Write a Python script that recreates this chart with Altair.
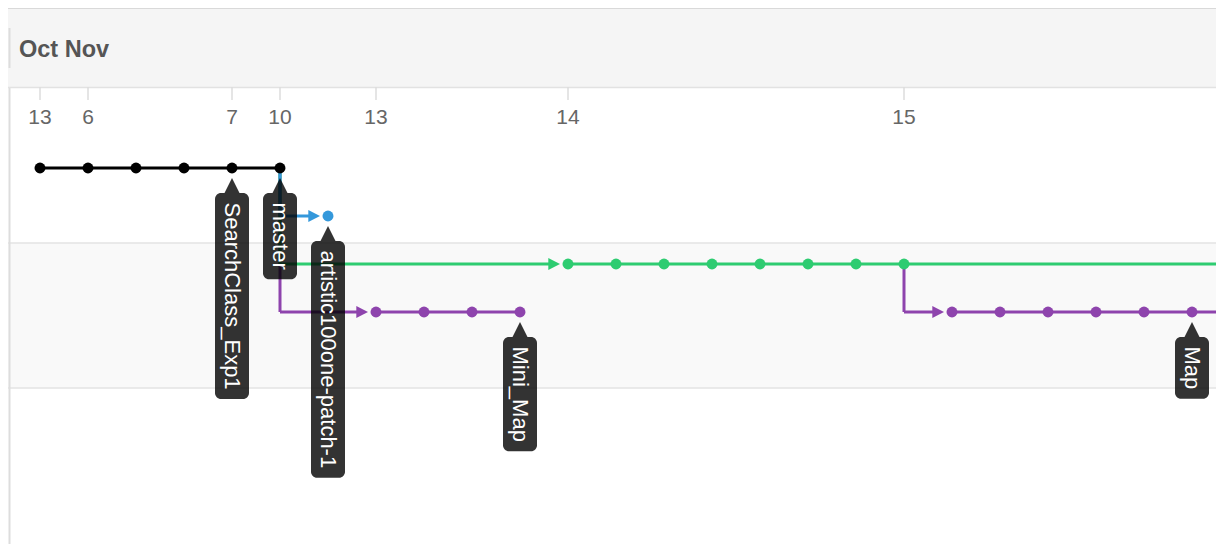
import altair as alt
import pandas as pd

# ---------------- data ----------------
date_idx = [0, 1, 4, 5, 7, 11, 18]
date_labels = ["13", "6", "7", "10", "13", "14", "15"]
month_text = ["Oct Nov"]

black_commits = [0, 1, 2, 3, 4, 5]
blue_commits = [6]
green_commits = [11, 12, 13, 14, 15, 16, 17, 18]
purple_a_commits = [7, 8, 9, 10]
purple_b_commits = [19, 20, 21, 22, 23, 24]

branch_names = ["purple_b", "purple_a", "green", "blue", "black"]
branch_rows = [3, 3, 2, 1, 0]
branch_commits = [purple_b_commits, purple_a_commits, green_commits, blue_commits, black_commits]
branch_fork = [(18, 2), (5, 0), (5, 0), (5, 0), None]
branch_continues = [True, False, True, False, False]
branch_colors = ["#8e44ad", "#8e44ad", "#2ecc71", "#3498db", "#000000"]

label_names = ["SearchClass_Exp1", "master", "artistic100one-patch-1", "Mini_Map", "Map"]
label_idx = [4, 5, 6, 10, 24]
label_row = [0, 0, 1, 3, 3]

band_rows = [1.5625, 4.583]

# ---------------- geometry helpers ----------------
PX = 48.0          # pixels per commit step / row
W, H = 1208, 536
FONT = "Liberation Sans, Arial, Helvetica, sans-serif"
LABEL_SIZE = 22
ARIAL = {"a": 556, "c": 500, "e": 556, "h": 556, "i": 222, "l": 222, "m": 833, "n": 556,
         "o": 556, "p": 556, "r": 333, "s": 500, "t": 278, "x": 500, "S": 667, "C": 722,
         "E": 667, "M": 833, "_": 556, "-": 333, "0": 556, "1": 556}


def text_px(s, size):
    return sum(ARIAL.get(ch, 556) for ch in s) / 1000.0 * size


xs = alt.Scale(domain=[-32 / PX, (W - 32) / PX], nice=False, zero=False)
ys = alt.Scale(domain=[-160 / PX, (H - 160) / PX], reverse=True, nice=False, zero=False)

# segments, dots, arrows
segs, dots, arrows = [], [], []
for name, row, commits, fork, cont in zip(branch_names, branch_rows, branch_commits,
                                          branch_fork, branch_continues):
    first, last = commits[0], commits[-1]
    end = (W + 60) / PX if cont else last
    if fork is not None:
        fi, fr = fork
        segs.append(dict(b=name, x=fi, y=fr, x2=fi, y2=row))
        segs.append(dict(b=name, x=fi, y=row, x2=first - 14 / PX, y2=row))
        arrows.append(dict(b=name, x=first, y=row))
    segs.append(dict(b=name, x=first, y=row, x2=end, y2=row))
    for c in commits:
        dots.append(dict(b=name, x=c, y=row))

segs = pd.DataFrame(segs)
dots = pd.DataFrame(dots)
arrows = pd.DataFrame(arrows)

color = alt.Color("b:N", scale=alt.Scale(domain=branch_names, range=branch_colors), legend=None)

labels = pd.DataFrame({
    "name": label_names,
    "x": label_idx,
    "y": label_row,
})
labels["bx"] = labels["x"] - 17 / PX
labels["bx2"] = labels["x"] + 17 / PX
labels["by"] = labels["y"] + 25 / PX
labels["by2"] = labels["y"] + (25 + labels["name"].map(lambda s: text_px(s, LABEL_SIZE) + 19)) / PX

dates = pd.DataFrame({"x": date_idx, "t": date_labels})
one = pd.DataFrame({"k": [0]})
band = pd.DataFrame({"y": [band_rows[0]], "y2": [band_rows[1]]})
band_edges = pd.DataFrame({"y": band_rows})

# ---------------- layers ----------------
header_bg = alt.Chart(one).mark_rect(color="#f5f5f5").encode(
    x=alt.value(0), x2=alt.value(W), y=alt.value(0), y2=alt.value(80))
header_top = alt.Chart(one).mark_rule(color="#d9d9d9", strokeWidth=2).encode(
    x=alt.value(0), x2=alt.value(W), y=alt.value(0))
header_bottom = alt.Chart(one).mark_rule(color="#e2e2e2", strokeWidth=1.5).encode(
    x=alt.value(0), x2=alt.value(W), y=alt.value(79.5))
header_vline = alt.Chart(one).mark_rule(color="#dddddd", strokeWidth=2).encode(
    x=alt.value(1.5), y=alt.value(20), y2=alt.value(60))
left_vline = alt.Chart(one).mark_rule(color="#dddddd", strokeWidth=2).encode(
    x=alt.value(1.5), y=alt.value(80), y2=alt.value(H))
month = alt.Chart(pd.DataFrame({"t": month_text})).mark_text(
    font=FONT, fontSize=23.5, fontWeight="bold", color="#555555", align="left",
    baseline="alphabetic").encode(x=alt.value(11), y=alt.value(48.5), text="t:N")

band_rect = alt.Chart(band).mark_rect(color="#f9f9f9").encode(
    x=alt.value(0), x2=alt.value(W),
    y=alt.Y("y:Q", scale=ys, axis=None), y2="y2:Q")
band_lines = alt.Chart(band_edges).mark_rule(color="#e3e3e3", strokeWidth=1.5).encode(
    x=alt.value(0), x2=alt.value(W), y=alt.Y("y:Q", scale=ys, axis=None))

date_ticks = alt.Chart(dates).mark_rule(color="#dddddd", strokeWidth=1.5).encode(
    x=alt.X("x:Q", scale=xs, axis=None), y=alt.value(79), y2=alt.value(92))
date_text = alt.Chart(dates).mark_text(
    font=FONT, fontSize=21, color="#666666", baseline="alphabetic", align="center").encode(
    x=alt.X("x:Q", scale=xs, axis=None), y=alt.value(116), text="t:N")

lines = alt.Chart(segs).mark_rule(strokeWidth=3, clip=True).encode(
    x=alt.X("x:Q", scale=xs, axis=None), x2="x2:Q",
    y=alt.Y("y:Q", scale=ys, axis=None), y2="y2:Q", color=color)
arrow_marks = alt.Chart(arrows).mark_point(
    shape="M-0.95,-1L1,0L-0.95,1Z", filled=True, opacity=1, size=144, xOffset=-14).encode(
    x=alt.X("x:Q", scale=xs, axis=None), y=alt.Y("y:Q", scale=ys, axis=None), color=color)
dot_marks = alt.Chart(dots).mark_circle(size=120, opacity=1).encode(
    x=alt.X("x:Q", scale=xs, axis=None), y=alt.Y("y:Q", scale=ys, axis=None), color=color)

box = alt.Chart(labels).mark_rect(color="#000000", opacity=0.8, cornerRadius=6).encode(
    x=alt.X("bx:Q", scale=xs, axis=None), x2="bx2:Q",
    y=alt.Y("by:Q", scale=ys, axis=None), y2="by2:Q")
pointer = alt.Chart(labels).mark_point(
    shape="M0,-1L1,1L-1,1Z", filled=True, color="#000000", opacity=0.8, size=225,
    yOffset=17.5).encode(
    x=alt.X("x:Q", scale=xs, axis=None), y=alt.Y("y:Q", scale=ys, axis=None))
label_text = alt.Chart(labels).mark_text(
    font=FONT, fontSize=LABEL_SIZE, color="#ffffff", angle=90, align="left",
    baseline="middle", yOffset=34.5).encode(
    x=alt.X("x:Q", scale=xs, axis=None), y=alt.Y("y:Q", scale=ys, axis=None), text="name:N")

chart = alt.layer(
    header_bg, header_top, header_bottom, header_vline, month,
    band_rect, band_lines, left_vline,
    date_ticks, date_text,
    lines, arrow_marks, dot_marks,
    box, pointer, label_text,
).properties(
    width=W, height=H, padding=0, autosize=alt.AutoSizeParams(type="none"),
    background="#ffffff",
).configure_view(stroke=None)

chart.save("out.html", embed_options={"renderer": "svg", "actions": False})
